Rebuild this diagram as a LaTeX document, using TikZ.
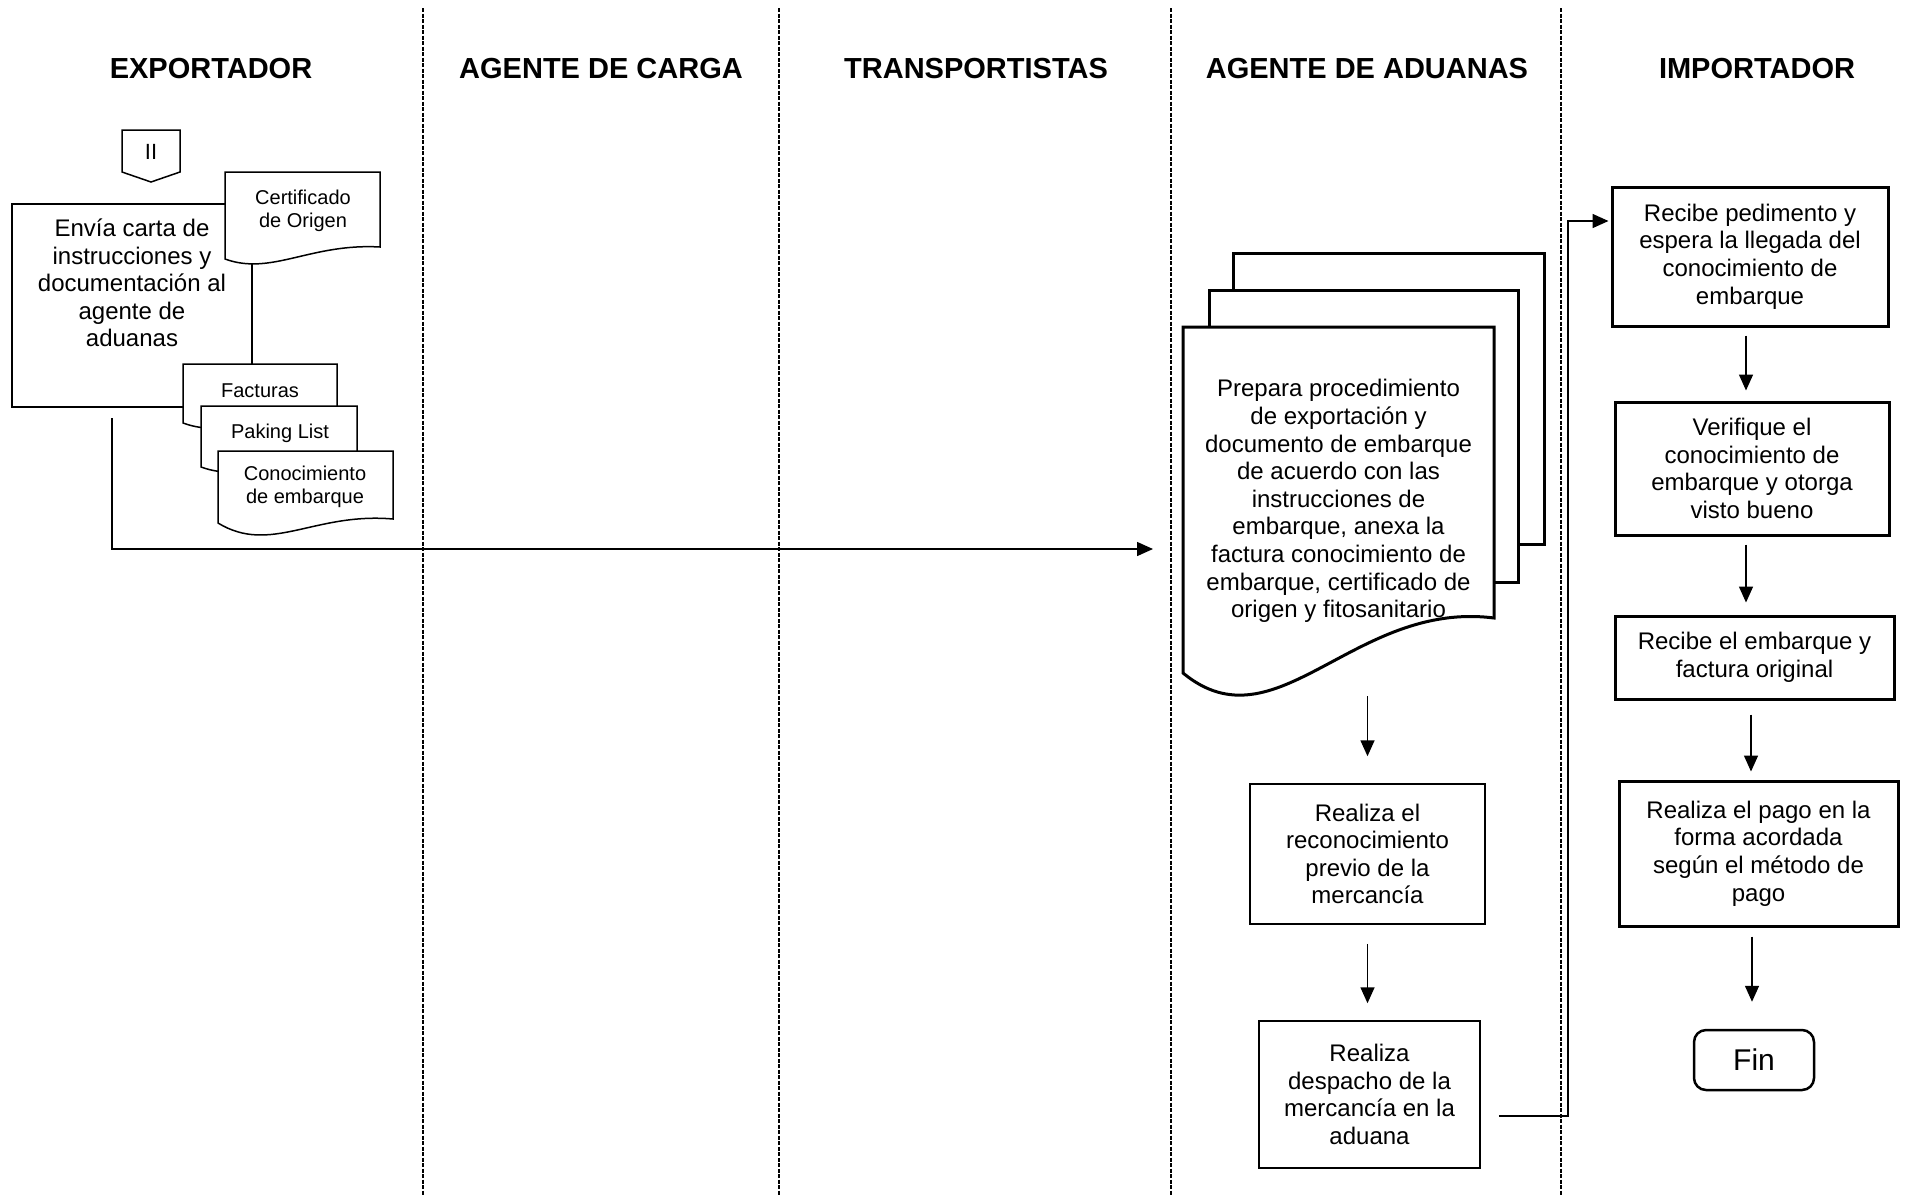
\documentclass[tikz,border=0pt]{standalone}
\usepackage{fontspec}
\setmainfont{Liberation Sans}
\usetikzlibrary{arrows.meta}
% document shape: L, T, R, y-left-bottom, y-right-bottom, ctrl1 y, ctrl2 y, style
\newcommand\docsh[8]{\filldraw[fill=white,#8] (#1,#2) -- (#3,#2) -- (#3,#5) .. controls ({#1+0.55*(#3-#1)},#7) and ({#1+0.3*(#3-#1)},#6) .. (#1,#4) -- cycle;}
\begin{document}
\begin{tikzpicture}[x=1pt,y=-1pt,
  lane/.style={line width=2pt, dash pattern=on 4pt off 1.5pt},
  hdr/.style={font=\fontsize{29}{33}\selectfont\bfseries},
  txt/.style={font=\fontsize{24}{27.6}\selectfont, align=center, inner sep=0pt},
  smalltxt/.style={font=\fontsize{20}{23}\selectfont, align=center, inner sep=0pt},
  box/.style={draw, line width=1.5pt, inner sep=0pt, align=center, font=\fontsize{24}{27.6}\selectfont},
  tbox/.style={box, line width=3pt},
  arr/.style={-{Triangle[length=16pt,width=14pt]}, line width=1.5pt},
  conn/.style={line width=1.5pt}]
\useasboundingbox (0,0) rectangle (1905,1195);
\fill[white] (0,0) rectangle (1905,1195);

% swimlane dividers
\foreach \x in {423,779,1171,1561} \draw[lane] (\x,8) -- (\x,1195);

% headers
\node[hdr] (h1) at (211,69) {EXPORTADOR};
\node[hdr] (h2) at (601,69) {AGENTE DE CARGA};
\node[hdr] (h3) at (976,69) {TRANSPORTISTAS};
\node[hdr] (h4) at (1367,69) {AGENTE DE ADUANAS};
\node[hdr] (h5) at (1757,69) {IMPORTADOR};

% off-page connector
\draw[conn, fill=white] (122,130) -- (180,130) -- (180,172) -- (151,182) -- (122,172) -- cycle;
\node[font=\fontsize{22}{24}\selectfont, inner sep=0pt] (ii) at (151,152) {II};

% exporter process box
\node[box, minimum width=240pt, minimum height=203pt] (envia) at (132,305.5) {};
\node[txt] (enviatxt) at (132,283) {Envía carta de\\instrucciones y\\documentación al\\agente de\\aduanas};

% documents
\docsh{225}{172}{380}{259}{247}{276}{243}{line width=1.5pt}
\node[smalltxt] (cert) at (303,211) {Certificado\\de Origen};
\docsh{183}{364}{337}{423}{415}{440}{410}{line width=1.5pt}
\node[smalltxt] (fact) at (260,391) {Facturas};
\docsh{201}{406}{357}{467}{459}{484}{454}{line width=1.5pt}
\node[smalltxt] (pak) at (280,433) {Paking List};
\docsh{218}{451}{393}{523}{519}{555}{512}{line width=1.5pt}
\node[smalltxt] (cono) at (305,487) {Conocimiento\\de embarque};

% main connector to customs agent
\coordinate (mstart) at (112,418);
\coordinate (mend) at (1153,549);
\draw[arr] (mstart) |- (mend);

% multi-document stack
\draw[line width=3pt, fill=white] (1233,253) rectangle (1544,544);
\draw[line width=3pt, fill=white] (1209,290) rectangle (1518,582);
\docsh{1183}{327}{1494}{673}{618}{750}{600}{line width=3pt}
\node[txt, minimum width=311pt] (prep) at (1338.5,501) {Prepara procedimiento\\de exportación y\\documento de embarque\\de acuerdo con las\\instrucciones de\\embarque, anexa la\\factura conocimiento de\\embarque, certificado de\\origen y fitosanitario};

% customs agent boxes
\node[box, minimum width=235pt, minimum height=140pt] (recon) at (1367.5,854) {Realiza el\\reconocimiento\\previo de la\\mercancía};
\node[box, minimum width=221pt, minimum height=147pt] (desp) at (1369.5,1094.5) {Realiza\\despacho de la\\mercancía en la\\aduana};

\draw[arr] ([yshift=87pt]recon.north) -- ([yshift=27pt]recon.north);
\draw[arr, shorten <=19pt, shorten >=17pt] (recon.south) -- (recon.south |- desp.north);

% importer boxes
\node[tbox, minimum width=276pt, minimum height=139pt] (rec1) at (1750,256.5) {Recibe pedimento y\\espera la llegada del\\conocimiento de\\embarque};
\node[tbox, minimum width=274pt, minimum height=133pt] (ver) at (1752,468.5) {Verifique el\\conocimiento de\\embarque y otorga\\visto bueno};
\node[tbox, minimum width=279pt, minimum height=83pt] (emb) at (1754.5,657.5) {Recibe el embarque y\\factura original};
\node[tbox, minimum width=279pt, minimum height=145pt] (pago) at (1758.5,853.5) {Realiza el pago en la\\forma acordada\\según el método de\\pago};
\node[draw, line width=2.5pt, rounded corners=12pt, minimum width=120pt, minimum height=60pt, inner sep=0pt, font=\fontsize{30}{34}\selectfont] (fin) at (1754,1060) {Fin};

% connector from customs to importer
\draw[arr] ([xshift=18pt,yshift=-21.5pt]desp.east) -- ++(69,0) |- ([xshift=-2pt,yshift=35.5pt]rec1.west);

% importer arrows
\draw[arr, shorten <=8pt, shorten >=10pt] ([xshift=-4pt]rec1.south) -- ([xshift=-4pt]rec1.south |- ver.north);
\draw[arr, shorten <=8pt, shorten >=12pt] ([xshift=-6pt]ver.south) -- ([xshift=-6pt]ver.south |- emb.north);
\draw[arr, shorten <=14pt, shorten >=8pt] ([xshift=-3.5pt]emb.south) -- ([xshift=-3.5pt]emb.south |- pago.north);
\draw[arr, shorten <=9pt, shorten >=27pt] ([xshift=-6.5pt]pago.south) -- ([xshift=-6.5pt]pago.south |- fin.north);
\end{tikzpicture}
\end{document}
